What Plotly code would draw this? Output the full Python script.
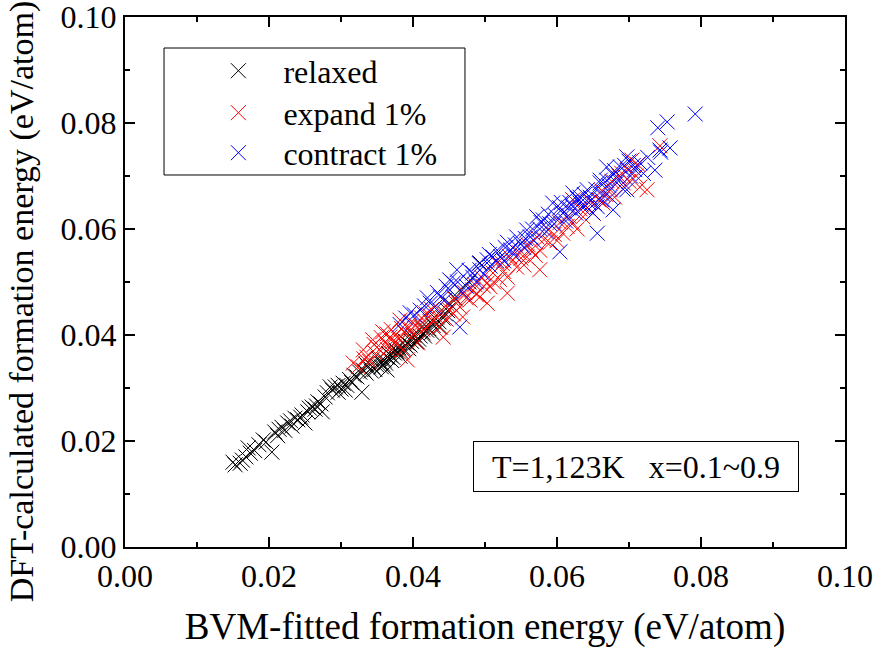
import plotly.graph_objects as go

# ---------------- data ----------------
relaxed_x = [0.0150, 0.0153, 0.0160, 0.0163, 0.0168, 0.0171, 0.0174, 0.0180, 0.0186, 0.0192,
             0.0196, 0.0204, 0.0208, 0.0212, 0.0218, 0.0222, 0.0226, 0.0230, 0.0236, 0.0240,
             0.0246, 0.0250, 0.0254, 0.0260, 0.0264, 0.0268, 0.0272, 0.0274, 0.0278, 0.0281,
             0.0285, 0.0288, 0.0292, 0.0296, 0.0300, 0.0303, 0.0308, 0.0312, 0.0318, 0.0322,
             0.0326, 0.0329, 0.0331, 0.0335, 0.0338, 0.0344, 0.0347, 0.0350, 0.0354, 0.0358,
             0.0360, 0.0364, 0.0364, 0.0368, 0.0370, 0.0374, 0.0378, 0.0380, 0.0382, 0.0386,
             0.0390, 0.0392, 0.0396, 0.0400, 0.0404, 0.0406, 0.0410, 0.0414, 0.0419, 0.0424,
             0.0428, 0.0432, 0.0438, 0.0445, 0.0452, 0.0465, 0.0478, 0.0493,
             0.0335, 0.0342, 0.0352, 0.0356, 0.0362, 0.0366, 0.0372, 0.0376, 0.0384, 0.0388,
             0.0394, 0.0398, 0.0402, 0.0408, 0.0412, 0.0416, 0.0422, 0.0426, 0.0436, 0.0442,
             0.0448, 0.0458, 0.0315, 0.0306, 0.0296, 0.0266, 0.0256, 0.0244, 0.0232, 0.0214]
relaxed_y = [0.0160, 0.0155, 0.0158, 0.0164, 0.0170, 0.0187, 0.0177, 0.0182, 0.0193, 0.0202,
             0.0198, 0.0179, 0.0217, 0.0210, 0.0226, 0.0220, 0.0234, 0.0238, 0.0243, 0.0240,
             0.0249, 0.0234, 0.0255, 0.0264, 0.0260, 0.0274, 0.0270, 0.0255, 0.0283, 0.0291,
             0.0302, 0.0296, 0.0302, 0.0292, 0.0298, 0.0309, 0.0305, 0.0316, 0.0324, 0.0321,
             0.0330, 0.0292, 0.0334, 0.0328, 0.0340, 0.0340, 0.0335, 0.0343, 0.0349, 0.0345,
             0.0353, 0.0334, 0.0358, 0.0362, 0.0352, 0.0366, 0.0368, 0.0376, 0.0360, 0.0375,
             0.0380, 0.0385, 0.0381, 0.0394, 0.0388, 0.0387, 0.0398, 0.0404, 0.0409, 0.0425,
             0.0418, 0.0430, 0.0415, 0.0440, 0.0458, 0.0485, 0.0500, 0.0536,
             0.0345, 0.0332, 0.0356, 0.0340, 0.0347, 0.0365, 0.0358, 0.0372, 0.0368, 0.0390,
             0.0374, 0.0388, 0.0400, 0.0392, 0.0415, 0.0398, 0.0412, 0.0405, 0.0425, 0.0432,
             0.0446, 0.0470, 0.0310, 0.0296, 0.0305, 0.0266, 0.0262, 0.0245, 0.0228, 0.0222]

expand_x = [0.0317, 0.0324, 0.0331, 0.0336, 0.0340, 0.0344, 0.0348, 0.0350, 0.0355, 0.0358,
            0.0362, 0.0365, 0.0368, 0.0368, 0.0372, 0.0376, 0.0380, 0.0382, 0.0386, 0.0388,
            0.0392, 0.0394, 0.0396, 0.0400, 0.0406, 0.0410, 0.0414, 0.0419, 0.0424, 0.0428,
            0.0433, 0.0438, 0.0442, 0.0446, 0.0451, 0.0456, 0.0460, 0.0465, 0.0469, 0.0474,
            0.0479, 0.0483, 0.0488, 0.0493, 0.0498, 0.0503, 0.0503, 0.0507, 0.0511, 0.0517,
            0.0520, 0.0526, 0.0531, 0.0531, 0.0538, 0.0544, 0.0550, 0.0554, 0.0558, 0.0564,
            0.0570, 0.0576, 0.0576, 0.0582, 0.0590, 0.0596, 0.0600, 0.0608, 0.0614, 0.0622,
            0.0622, 0.0628, 0.0636, 0.0642, 0.0650, 0.0658, 0.0664, 0.0668, 0.0674, 0.0680,
            0.0686, 0.0692, 0.0698, 0.0704, 0.0710, 0.0715, 0.0725, 0.0743,
            0.0332, 0.0346, 0.0356, 0.0364, 0.0370, 0.0378, 0.0384, 0.0398, 0.0404, 0.0412,
            0.0418, 0.0426, 0.0436, 0.0448, 0.0458, 0.0472, 0.0486, 0.0496, 0.0512, 0.0524,
            0.0534, 0.0548, 0.0560, 0.0572, 0.0588, 0.0604, 0.0616, 0.0632, 0.0646, 0.0662,
            0.0676, 0.0690, 0.0700, 0.0712]
expand_y = [0.0347, 0.0340, 0.0372, 0.0358, 0.0350, 0.0391, 0.0365, 0.0377, 0.0370, 0.0406,
            0.0385, 0.0372, 0.0377, 0.0396, 0.0388, 0.0400, 0.0392, 0.0428, 0.0372, 0.0405,
            0.0353, 0.0415, 0.0409, 0.0400, 0.0385, 0.0420, 0.0410, 0.0415, 0.0436, 0.0425,
            0.0434, 0.0445, 0.0396, 0.0430, 0.0447, 0.0440, 0.0460, 0.0453, 0.0434, 0.0470,
            0.0466, 0.0485, 0.0476, 0.0472, 0.0492, 0.0498, 0.0460, 0.0491, 0.0517, 0.0536,
            0.0505, 0.0520, 0.0509, 0.0479, 0.0540, 0.0528, 0.0545, 0.0532, 0.0547, 0.0560,
            0.0550, 0.0560, 0.0523, 0.0580, 0.0574, 0.0590, 0.0578, 0.0592, 0.0605, 0.0611,
            0.0655, 0.0600, 0.0623, 0.0640, 0.0630, 0.0655, 0.0649, 0.0665, 0.0674, 0.0660,
            0.0700, 0.0687, 0.0712, 0.0730, 0.0700, 0.0679, 0.0674, 0.0757,
            0.0355, 0.0382, 0.0395, 0.0402, 0.0410, 0.0384, 0.0412, 0.0425, 0.0418, 0.0432,
            0.0440, 0.0448, 0.0415, 0.0458, 0.0468, 0.0480, 0.0495, 0.0508, 0.0500, 0.0535,
            0.0548, 0.0555, 0.0570, 0.0585, 0.0598, 0.0612, 0.0625, 0.0638, 0.0652, 0.0672,
            0.0690, 0.0705, 0.0690, 0.0722]

contract_x = [0.0382, 0.0390, 0.0396, 0.0402, 0.0410, 0.0416, 0.0424, 0.0430, 0.0438, 0.0444,
              0.0451, 0.0451, 0.0456, 0.0461, 0.0465, 0.0469, 0.0474, 0.0483, 0.0483, 0.0488,
              0.0493, 0.0498, 0.0503, 0.0507, 0.0511, 0.0517, 0.0522, 0.0526, 0.0531, 0.0536,
              0.0540, 0.0544, 0.0550, 0.0554, 0.0558, 0.0563, 0.0568, 0.0572, 0.0576, 0.0581,
              0.0585, 0.0590, 0.0594, 0.0598, 0.0604, 0.0604, 0.0608, 0.0612, 0.0614, 0.0618,
              0.0622, 0.0622, 0.0626, 0.0632, 0.0632, 0.0636, 0.0642, 0.0646, 0.0650, 0.0652,
              0.0656, 0.0656, 0.0660, 0.0660, 0.0664, 0.0669, 0.0669, 0.0674, 0.0678, 0.0678,
              0.0683, 0.0688, 0.0692, 0.0697, 0.0697, 0.0702, 0.0706, 0.0715, 0.0720, 0.0736,
              0.0743, 0.0740, 0.0753, 0.0757, 0.0792,
              0.0420, 0.0434, 0.0446, 0.0462, 0.0478, 0.0492, 0.0506, 0.0516, 0.0528, 0.0542,
              0.0556, 0.0566, 0.0578, 0.0588, 0.0596, 0.0606, 0.0616, 0.0628, 0.0638, 0.0644,
              0.0654, 0.0662, 0.0672, 0.0680, 0.0686, 0.0694, 0.0700, 0.0708, 0.0726, 0.0744]
contract_y = [0.0420, 0.0432, 0.0442, 0.0438, 0.0447, 0.0455, 0.0460, 0.0452, 0.0472, 0.0466,
              0.0485, 0.0504, 0.0498, 0.0523, 0.0415, 0.0479, 0.0492, 0.0509, 0.0517, 0.0500,
              0.0523, 0.0515, 0.0542, 0.0530, 0.0547, 0.0560, 0.0548, 0.0540, 0.0575, 0.0560,
              0.0552, 0.0585, 0.0572, 0.0565, 0.0598, 0.0585, 0.0578, 0.0623, 0.0600, 0.0617,
              0.0595, 0.0610, 0.0649, 0.0625, 0.0557, 0.0640, 0.0630, 0.0615, 0.0623, 0.0650,
              0.0668, 0.0642, 0.0630, 0.0649, 0.0660, 0.0640, 0.0674, 0.0660, 0.0630, 0.0648,
              0.0592, 0.0642, 0.0687, 0.0692, 0.0665, 0.0692, 0.0717, 0.0660, 0.0636, 0.0702,
              0.0687, 0.0717, 0.0675, 0.0674, 0.0736, 0.0700, 0.0720, 0.0725, 0.0705, 0.0711,
              0.0749, 0.0791, 0.0802, 0.0753, 0.0817,
              0.0470, 0.0480, 0.0492, 0.0500, 0.0522, 0.0535, 0.0552, 0.0540, 0.0565, 0.0570,
              0.0582, 0.0600, 0.0612, 0.0628, 0.0610, 0.0650, 0.0640, 0.0658, 0.0665, 0.0650,
              0.0675, 0.0655, 0.0682, 0.0710, 0.0695, 0.0720, 0.0728, 0.0712, 0.0735, 0.0745]

series = [
    ("relaxed", relaxed_x, relaxed_y, "#000000"),
    ("expand 1%", expand_x, expand_y, "#ff0000"),
    ("contract 1%", contract_x, contract_y, "#0000ff"),
]

tick_vals = [0.00, 0.02, 0.04, 0.06, 0.08, 0.10]
tick_text = ["0.00", "0.02", "0.04", "0.06", "0.08", "0.10"]

FONT = "Liberation Serif"

# legend row positions (paper y) for each series' own legend
legend_names = ["legend", "legend2", "legend3"]
legend_rows = [0.8983, 0.8191, 0.7436]

fig = go.Figure()
for (name, xs, ys, col), lg in zip(series, legend_names):
    fig.add_trace(go.Scatter(
        x=xs, y=ys, mode="markers", name=name, legend=lg,
        marker=dict(symbol="x-thin", size=15, color=col,
                    line=dict(width=1, color=col)),
    ))

axis_common = dict(
    range=[0, 0.1], tickvals=tick_vals, ticktext=tick_text,
    ticks="inside", ticklen=10, tickwidth=2, tickcolor="black",
    showline=True, linewidth=2, linecolor="black", mirror="ticks",
    showgrid=False, zeroline=False, automargin=False,
    ticklabeloverflow="allow",
    minor=dict(dtick=0.01, tick0=0, ticks="inside", ticklen=5, tickwidth=2,
               tickcolor="black", showgrid=False),
    tickfont=dict(family=FONT, size=32, color="black"),
)

legend_style = dict(xanchor="left", yanchor="middle", x=0.095,
                    bgcolor="rgba(0,0,0,0)", borderwidth=0, itemwidth=80,
                    font=dict(family=FONT, size=32, color="black"))

fig.update_layout(
    width=878, height=652,
    margin=dict(l=125, r=33, t=17, b=105),
    paper_bgcolor="white", plot_bgcolor="white",
    font=dict(family=FONT, color="black"),
    xaxis=dict(**axis_common,
               title=dict(text="BVM-fitted formation energy (eV/atom)",
                          font=dict(family=FONT, size=37), standoff=20)),
    yaxis=dict(**axis_common),
    legend=dict(**legend_style, y=legend_rows[0]),
    legend2=dict(**legend_style, y=legend_rows[1]),
    legend3=dict(**legend_style, y=legend_rows[2]),
    showlegend=True,
    shapes=[dict(type="rect", xref="paper", yref="paper",
                 x0=0.0542, x1=0.4722, y0=0.7019, y1=0.9415,
                 line=dict(color="black", width=1), fillcolor="rgba(0,0,0,0)")],
    annotations=[
        dict(text="T=1,123K   x=0.1~0.9", xref="paper", yref="paper",
             x=0.7097, y=0.1528, xanchor="center", yanchor="middle",
             showarrow=False, font=dict(family=FONT, size=32, color="black"),
             bordercolor="black", borderwidth=1, borderpad=1,
             width=322, height=47, bgcolor="white"),
        dict(text="DFT-calculated formation energy (eV/atom)", xref="paper", yref="paper",
             x=-0.143, y=0.462, xanchor="center", yanchor="middle", textangle=-90,
             showarrow=False, font=dict(family=FONT, size=34, color="black")),
    ],
)

fig.write_html("out.html")
